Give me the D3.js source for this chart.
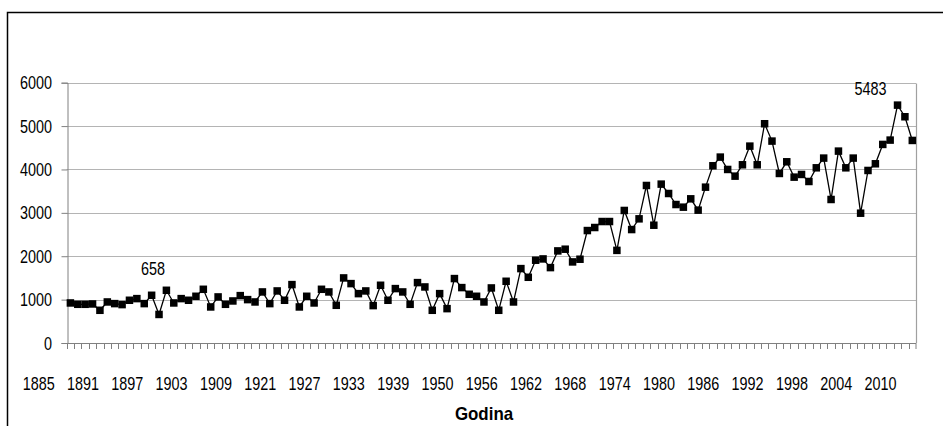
<!DOCTYPE html>
<html>
<head>
<meta charset="utf-8">
<script src="https://cdn.jsdelivr.net/npm/d3@7"></script>
<style>
  body { margin: 0; background: #fff; }
  svg text { font-family: "Liberation Sans", Arial, sans-serif; fill: #000; }
</style>
</head>
<body>
<div id="chart"></div>
<script>
// Godine (kategorije) - nedostaju 1915-1920 i 1945-1949
var godine = [
  1885,1886,1887,1888,1889,1890,1891,1892,1893,1894,1895,1896,1897,1898,1899,
  1900,1901,1902,1903,1904,1905,1906,1907,1908,1909,1910,1911,1912,1913,1914,
  1921,1922,1923,1924,1925,1926,1927,1928,1929,1930,1931,1932,1933,1934,1935,
  1936,1937,1938,1939,1940,1941,1942,1943,1944,
  1950,1951,1952,1953,1954,1955,1956,1957,1958,1959,1960,1961,1962,1963,1964,
  1965,1966,1967,1968,1969,1970,1971,1972,1973,1974,1975,1976,1977,1978,1979,
  1980,1981,1982,1983,1984,1985,1986,1987,1988,1989,1990,1991,1992,1993,1994,
  1995,1996,1997,1998,1999,2000,2001,2002,2003,2004,2005,2006,2007,2008,2009,2010
];

var vrijednosti = [
  923,892,892,900,754,946,908,885,985,1023,908,1100,658,1215,923,
  1023,985,1077,1238,831,1062,892,969,1092,1000,946,1177,908,1200,985,
  1346,831,1077,923,1238,1177,869,1500,1369,1138,1200,862,1331,985,1254,
  1177,892,1392,1292,754,1138,792,1485,1277,
  1123,1077,946,1269,754,1423,946,1715,1515,1908,1938,1738,2123,2162,1869,
  1931,2592,2662,2800,2800,2135,3055,2615,2862,3631,2715,3662,3446,3192,3131,
  3323,3062,3592,4085,4285,4000,3846,4108,4538,4108,5054,4654,3908,4177,3823,
  3885,3723,4038,4262,3308,4423,4038,4262,2992,3977,4131,4577,4677,5483,5215,4669
];

// oznake na x osi (svaka sesta godina)
var oznakeX = [1885,1891,1897,1903,1909,1921,1927,1933,1939,1950,1956,1962,1968,1974,1980,1986,1992,1998,2004,2010];
var oznakeY = [0,1000,2000,3000,4000,5000,6000];
// istaknute vrijednosti
var istaknuto = [1897, 2008];

var width = 943, height = 426;
var plot = { left: 66.7, right: 916, top: 82.7, bottom: 343 };
var uzi = 0.8; // suzeni brojevi

var svg = d3.select("#chart").append("svg")
  .attr("width", width)
  .attr("height", height);

// okvir grafikona
svg.append("rect")
  .attr("x", 7.5).attr("y", 12.5)
  .attr("width", 960).attr("height", 440)
  .attr("fill", "none")
  .attr("stroke", "#000")
  .attr("stroke-width", 1.5);

var x = d3.scaleBand().domain(godine).range([plot.left, plot.right]).padding(0);
var y = d3.scaleLinear().domain([0, 6000]).range([plot.bottom, plot.top]);
var bw = x.bandwidth();
function cx(g) { return x(g) + bw / 2; }

// tekst sa suzenjem
function tekst(g, tx, ty, s, sx) {
  return g.append("text")
    .attr("transform", "translate(" + tx + "," + ty + ") scale(" + sx + ",1)")
    .style("font-size", "18px")
    .text(s);
}

// mreza
svg.append("g").selectAll("line")
  .data(oznakeY.filter(function(v){ return v > 0; }))
  .enter().append("line")
  .attr("x1", plot.left).attr("x2", plot.right)
  .attr("y1", function(d){ return Math.round(y(d)) + 0.5; })
  .attr("y2", function(d){ return Math.round(y(d)) + 0.5; })
  .attr("stroke", "#b4b4b4").attr("stroke-width", 1.2);

// desni rub
svg.append("line")
  .attr("x1", plot.right + 0.5).attr("x2", plot.right + 0.5)
  .attr("y1", Math.round(plot.top) + 0.5).attr("y2", plot.bottom)
  .attr("stroke", "#a0a0a0").attr("stroke-width", 1.2);

// y os
var yAxis = svg.append("g")
  .attr("transform", "translate(" + (Math.round(plot.left) + 0.5) + ",0)")
  .call(d3.axisLeft(y).tickValues(oznakeY).tickSize(6).tickFormat(""));
yAxis.select(".domain").attr("stroke", "#808080");
yAxis.selectAll(".tick line").attr("stroke", "#808080");
var yl = svg.append("g");
oznakeY.forEach(function(v){
  tekst(yl, 52, y(v) + 6.5, v, uzi).attr("text-anchor", "end");
});

// x os
var xg = svg.append("g");
xg.append("line")
  .attr("x1", plot.left).attr("x2", plot.right)
  .attr("y1", Math.round(plot.bottom) + 0.5).attr("y2", Math.round(plot.bottom) + 0.5)
  .attr("stroke", "#808080");
xg.selectAll(".xt")
  .data(godine.concat(["kraj"]))
  .enter().append("line")
  .attr("x1", function(d){ return d === "kraj" ? plot.right : Math.round(x(d)) + 0.5; })
  .attr("x2", function(d){ return d === "kraj" ? plot.right : Math.round(x(d)) + 0.5; })
  .attr("y1", Math.round(plot.bottom)).attr("y2", Math.round(plot.bottom) + 6)
  .attr("stroke", "#808080");
oznakeX.forEach(function(g){
  tekst(xg, cx(g) - 4.3 * bw, 390, g, uzi).attr("text-anchor", "middle");
});

tekst(svg, 484, 420, "Godina", 0.94)
  .attr("text-anchor", "middle")
  .style("font-weight", "bold");

// linija
var podaci = godine.map(function(g, i){ return { g: g, v: vrijednosti[i] }; });
svg.append("path")
  .datum(podaci)
  .attr("fill", "none")
  .attr("stroke", "#000")
  .attr("stroke-width", 1.3)
  .attr("d", d3.line().x(function(d){ return cx(d.g); }).y(function(d){ return y(d.v); }));

var ms = 7.5;
svg.append("g").selectAll("rect")
  .data(podaci)
  .enter().append("rect")
  .attr("x", function(d){ return cx(d.g) - ms / 2; })
  .attr("y", function(d){ return y(d.v) - ms / 2; })
  .attr("width", ms).attr("height", ms)
  .attr("fill", "#000");

// oznake podataka
var ol = svg.append("g");
podaci.filter(function(d){ return istaknuto.indexOf(d.g) >= 0; }).forEach(function(d){
  var dx = d.g === 2008 ? -27 : -6;
  var dy = d.g === 2008 ? -10 : -39;
  tekst(ol, cx(d.g) + dx, y(d.v) + dy, d.v, uzi).attr("text-anchor", "middle");
});
</script>
</body>
</html>
